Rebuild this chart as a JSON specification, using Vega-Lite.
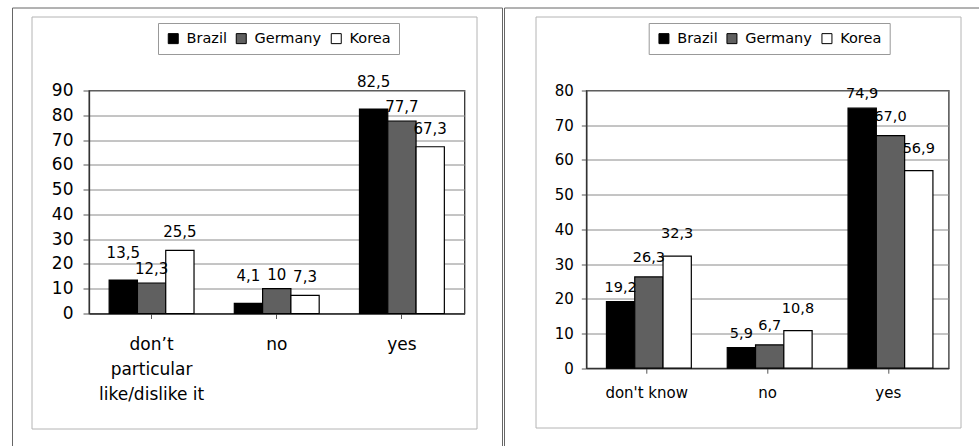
{
  "$schema": "https://vega.github.io/schema/vega-lite/v6.json",
  "padding": {"left": 10, "top": 5.5, "right": 0, "bottom": 0},
  "background": "white",
  "datasets": {
    "left": [
      {"cat": "don’t particular like/dislike it", "country": "Brazil", "value": 13.5, "label": "13,5"},
      {"cat": "don’t particular like/dislike it", "country": "Germany", "value": 12.3, "label": "12,3"},
      {"cat": "don’t particular like/dislike it", "country": "Korea", "value": 25.5, "label": "25,5"},
      {"cat": "no", "country": "Brazil", "value": 4.1, "label": "4,1"},
      {"cat": "no", "country": "Germany", "value": 10, "label": "10"},
      {"cat": "no", "country": "Korea", "value": 7.3, "label": "7,3"},
      {"cat": "yes", "country": "Brazil", "value": 82.5, "label": "82,5"},
      {"cat": "yes", "country": "Germany", "value": 77.7, "label": "77,7"},
      {"cat": "yes", "country": "Korea", "value": 67.3, "label": "67,3"}
    ],
    "right": [
      {"cat": "don't know", "country": "Brazil", "value": 19.2, "label": "19,2"},
      {"cat": "don't know", "country": "Germany", "value": 26.3, "label": "26,3"},
      {"cat": "don't know", "country": "Korea", "value": 32.3, "label": "32,3"},
      {"cat": "no", "country": "Brazil", "value": 5.9, "label": "5,9"},
      {"cat": "no", "country": "Germany", "value": 6.7, "label": "6,7"},
      {"cat": "no", "country": "Korea", "value": 10.8, "label": "10,8"},
      {"cat": "yes", "country": "Brazil", "value": 74.9, "label": "74,9"},
      {"cat": "yes", "country": "Germany", "value": 67.0, "label": "67,0"},
      {"cat": "yes", "country": "Korea", "value": 56.9, "label": "56,9"}
    ]
  },
  "spacing": 121.3,
  "bounds": "flush",
  "resolve": {
    "scale": {"fill": "independent", "stroke": "independent", "color": "independent"},
    "legend": {"fill": "independent", "stroke": "independent", "color": "independent"}
  },
  "hconcat": [
    {
      "width": 375.5,
      "height": 223,
      "data": {"name": "left"},
      "encoding": {
        "x": {
          "field": "cat", "type": "nominal",
          "scale": {"domain": ["don’t particular like/dislike it", "no", "yes"], "paddingInner": 0, "paddingOuter": 0},
          "axis": {
            "title": null, "labelAngle": 0, "tickSize": 5,
            "labelFontSize": 17, "labelPadding": 18, "labelLineHeight": 25, "grid": false,
            "labelExpr": "(datum.value == 'no' || datum.value == 'yes') ? datum.value : ['don’t', 'particular', 'like/dislike it']"
          }
        },
        "xOffset": {"field": "country", "type": "nominal", "scale": {"paddingInner": 0, "paddingOuter": 0.712}},
        "y": {
          "field": "value", "type": "quantitative",
          "scale": {"domain": [0, 90], "nice": false},
          "axis": {
            "title": null, "values": [0, 10, 20, 30, 40, 50, 60, 70, 80, 90],
            "tickSize": 6, "labelFontSize": 17, "labelPadding": 10
          }
        }
      },
      "layer": [
        {
          "mark": {"type": "bar", "stroke": "black", "strokeWidth": 1.2},
          "encoding": {
            "fill": {
              "field": "country", "type": "nominal",
              "scale": {"domain": ["Brazil", "Germany", "Korea"], "range": ["#000000", "#606060", "#ffffff"]},
              "legend": {"legendX": 69, "legendY": -67.5}
            }
          }
        },
        {
          "transform": [{"filter": "datum.country == 'Brazil'"}],
          "mark": {"type": "text", "baseline": "alphabetic", "dy": -22, "fontSize": 15, "strokeWidth": 0},
          "encoding": {
            "text": {"field": "label", "type": "nominal"},
            "stroke": {
              "field": "value", "type": "quantitative",
              "scale": {"range": ["rgba(255,255,255,0)", "rgba(255,255,255,0)"]},
              "legend": {
                "type": "gradient", "direction": "vertical", "legendX": -57.5, "legendY": -74,
                "gradientLength": 396, "gradientThickness": 427, "gradientStrokeWidth": 0,
                "labelExpr": "''", "labelOpacity": 0, "labelFontSize": 1, "gradientLabelOffset": 0,
                "title": null, "padding": 8, "strokeColor": "#b4b4b4"
              }
            }
          }
        },
        {
          "transform": [{"filter": "datum.country == 'Germany'"}],
          "mark": {"type": "text", "baseline": "alphabetic", "dy": -9, "fontSize": 15},
          "encoding": {"text": {"field": "label", "type": "nominal"}}
        },
        {
          "transform": [{"filter": "datum.country == 'Korea'"}],
          "mark": {"type": "text", "baseline": "alphabetic", "dy": -13, "fontSize": 15},
          "encoding": {"text": {"field": "label", "type": "nominal"}}
        },
        {
          "mark": {"type": "point", "opacity": 0},
          "encoding": {
            "color": {
              "field": "value", "type": "quantitative",
              "scale": {"range": ["rgba(255,255,255,0)", "rgba(255,255,255,0)"]},
              "legend": {
                "type": "gradient", "direction": "vertical", "legendX": -77, "legendY": -83,
                "gradientLength": 434, "gradientThickness": 471.5, "gradientStrokeWidth": 0,
                "labelExpr": "''", "labelOpacity": 0, "labelFontSize": 1, "gradientLabelOffset": 0,
                "title": null, "padding": 8, "strokeColor": "#666"
              }
            }
          }
        }
      ]
    },
    {
      "width": 362.4,
      "height": 277.7,
      "data": {"name": "right"},
      "encoding": {
        "x": {
          "field": "cat", "type": "nominal",
          "scale": {"domain": ["don't know", "no", "yes"], "paddingInner": 0, "paddingOuter": 0},
          "axis": {
            "title": null, "labelAngle": 0, "tickSize": 5,
            "labelFontSize": 15, "labelPadding": 12, "grid": false
          }
        },
        "xOffset": {"field": "country", "type": "nominal", "scale": {"paddingInner": 0, "paddingOuter": 0.737}},
        "y": {
          "field": "value", "type": "quantitative",
          "scale": {"domain": [0, 80], "nice": false},
          "axis": {
            "title": null, "values": [0, 10, 20, 30, 40, 50, 60, 70, 80],
            "tickSize": 5, "labelFontSize": 15, "labelPadding": 8
          }
        }
      },
      "layer": [
        {
          "mark": {"type": "bar", "stroke": "black", "strokeWidth": 1.2},
          "encoding": {
            "fill": {
              "field": "country", "type": "nominal",
              "scale": {"domain": ["Brazil", "Germany", "Korea"], "range": ["#000000", "#606060", "#ffffff"]},
              "legend": {"legendX": 62.4, "legendY": -67.5}
            }
          }
        },
        {
          "transform": [{"filter": "datum.country == 'Brazil'"}],
          "mark": {"type": "text", "baseline": "alphabetic", "dy": -10, "fontSize": 14.5, "strokeWidth": 0},
          "encoding": {
            "text": {"field": "label", "type": "nominal"},
            "stroke": {
              "field": "value", "type": "quantitative",
              "scale": {"range": ["rgba(255,255,255,0)", "rgba(255,255,255,0)"]},
              "legend": {
                "type": "gradient", "direction": "vertical", "legendX": -50.8, "legendY": -74,
                "gradientLength": 395, "gradientThickness": 407, "gradientStrokeWidth": 0,
                "labelExpr": "''", "labelOpacity": 0, "labelFontSize": 1, "gradientLabelOffset": 0,
                "title": null, "padding": 8, "strokeColor": "#b4b4b4"
              }
            }
          }
        },
        {
          "transform": [{"filter": "datum.country == 'Germany'"}],
          "mark": {"type": "text", "baseline": "alphabetic", "dy": -15, "fontSize": 14.5},
          "encoding": {"text": {"field": "label", "type": "nominal"}}
        },
        {
          "transform": [{"filter": "datum.country == 'Korea'"}],
          "mark": {"type": "text", "baseline": "alphabetic", "dy": -18, "fontSize": 14.5},
          "encoding": {"text": {"field": "label", "type": "nominal"}}
        },
        {
          "mark": {"type": "point", "opacity": 0},
          "encoding": {
            "color": {
              "field": "value", "type": "quantitative",
              "scale": {"range": ["rgba(255,255,255,0)", "rgba(255,255,255,0)"]},
              "legend": {
                "type": "gradient", "direction": "vertical", "legendX": -82.3, "legendY": -83,
                "gradientLength": 434, "gradientThickness": 468, "gradientStrokeWidth": 0,
                "labelExpr": "''", "labelOpacity": 0, "labelFontSize": 1, "gradientLabelOffset": 0,
                "title": null, "padding": 8, "strokeColor": "#666"
              }
            }
          }
        }
      ]
    }
  ],
  "config": {
    "font": "DejaVu Sans",
    "view": {"stroke": "#333", "strokeWidth": 1.3},
    "text": {"font": "DejaVu Sans", "color": "black"},
    "axis": {
      "labelFont": "DejaVu Sans", "labelColor": "black", "domainColor": "#333", "domainWidth": 1.3,
      "tickColor": "#555", "gridColor": "#8a8a8a", "gridWidth": 1
    },
    "axisY": {"grid": true},
    "legend": {
      "title": null, "orient": "none", "direction": "horizontal",
      "strokeColor": "#999", "padding": 8, "symbolType": "square", "symbolSize": 100,
      "symbolStrokeColor": "black", "symbolStrokeWidth": 1, "labelFont": "DejaVu Sans", "labelFontSize": 14.5,
      "labelColor": "black", "labelOffset": 6, "columnPadding": 7
    }
  }
}
